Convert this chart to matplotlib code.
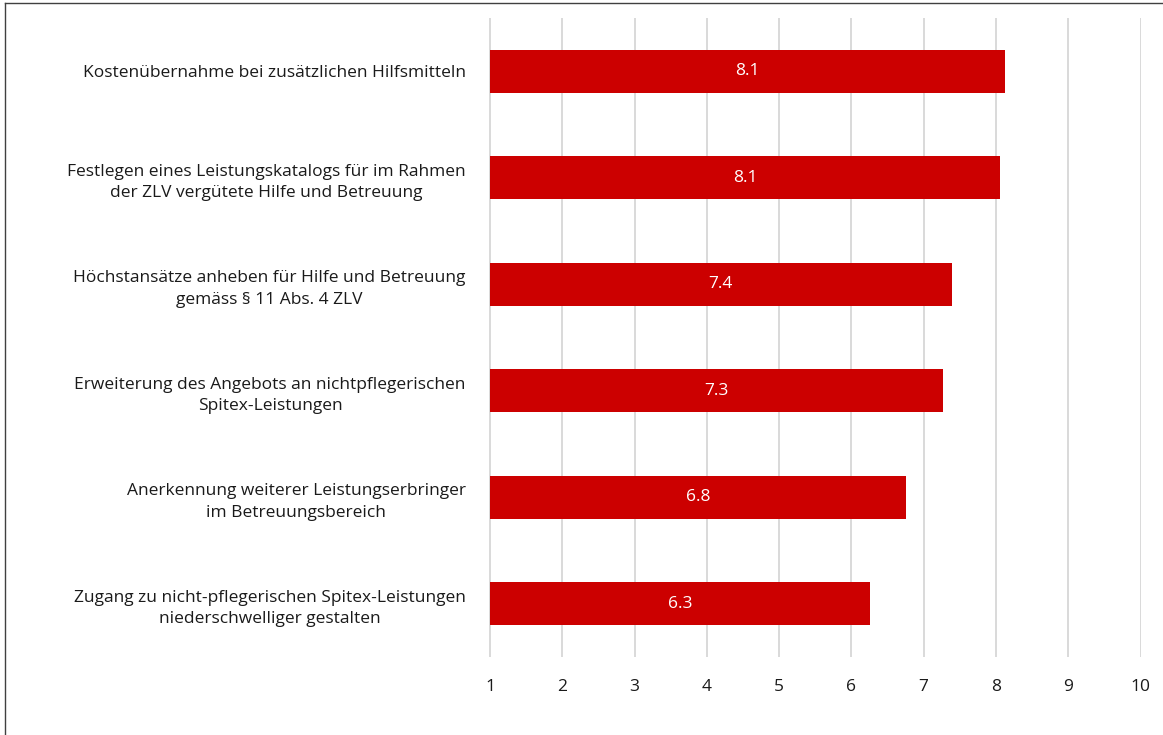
import matplotlib.pyplot as plt
from matplotlib.lines import Line2D

# Massnahmen, von oben nach unten
categories = [
    "Kostenübernahme bei zusätzlichen Hilfsmitteln",
    "Festlegen eines Leistungskatalogs für im Rahmen\nder ZLV vergütete Hilfe und Betreuung",
    "Höchstansätze anheben für Hilfe und Betreuung\ngemäss § 11 Abs. 4 ZLV",
    "Erweiterung des Angebots an nichtpflegerischen\nSpitex-Leistungen",
    "Anerkennung weiterer Leistungserbringer\nim Betreuungsbereich",
    "Zugang zu nicht-pflegerischen Spitex-Leistungen\nniederschwelliger gestalten",
]
scores = [8.13, 8.06, 7.39, 7.27, 6.76, 6.26]
x_ticks = [1, 2, 3, 4, 5, 6, 7, 8, 9, 10]

plt.rcParams['font.family'] = ['Open Sans', 'DejaVu Sans']

fig = plt.figure(figsize=(11.63, 7.35), dpi=100)
ax = fig.add_axes([0.4207, 0.1061, 0.5606, 0.8694])

y = list(range(len(categories)))
base = 1
ax.barh(y, [s - base for s in scores], left=base, height=0.4,
        color='#CC0000', zorder=3)

for yi, s in zip(y, scores):
    ax.text((base + s) / 2, yi, f"{s:.1f}", ha='center', va='center',
            color='white', fontsize=12.5, zorder=4)

ax.set_xlim(0.99, 10.01)
ax.set_ylim(len(categories) - 0.5, -0.5)
ax.set_xticks(x_ticks)
ax.set_yticks(y)
ax.set_yticklabels(categories)
for lbl in ax.get_yticklabels():
    lbl.set_multialignment('center')
    lbl.set_linespacing(1.45)

ax.grid(axis='x', color='#D9D9D9', linewidth=1.4, zorder=0)
ax.tick_params(axis='both', length=0, labelsize=12.5, colors='#1a1a1a')
ax.tick_params(axis='y', pad=17)
ax.tick_params(axis='x', pad=16)
for sp in ax.spines.values():
    sp.set_visible(False)

# Rahmen oben und links
fig.add_artist(Line2D([0.0045, 0.0045], [0, 0.996], transform=fig.transFigure,
                      color='#404040', linewidth=1))
fig.add_artist(Line2D([0.0045, 1], [0.996, 0.996], transform=fig.transFigure,
                      color='#404040', linewidth=1))

fig.savefig('out.png', dpi=100)
